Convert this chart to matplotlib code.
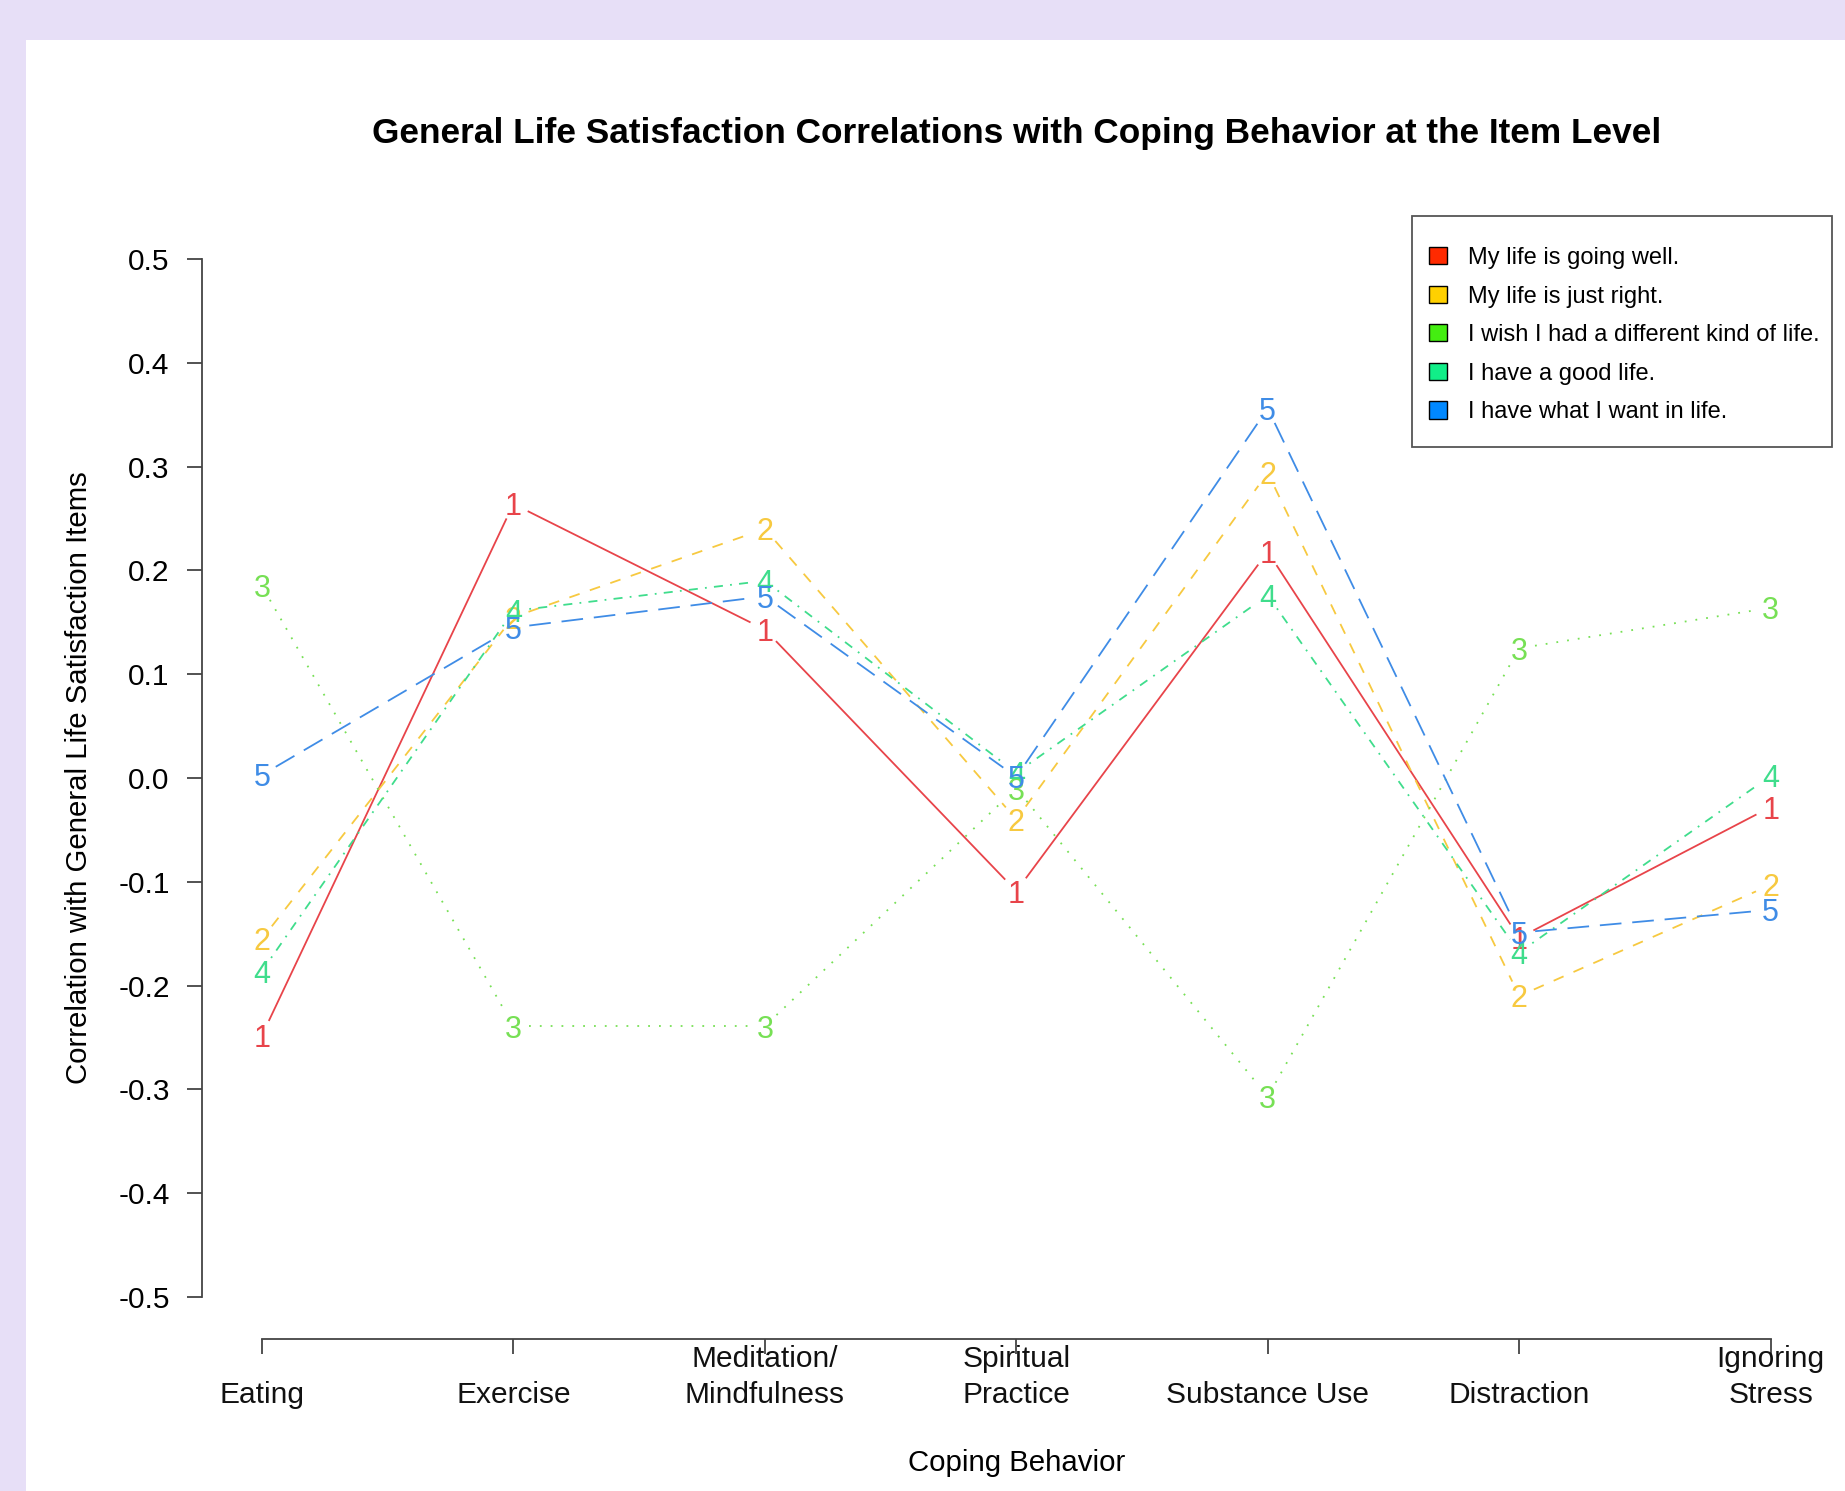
import matplotlib
matplotlib.use("Agg")
import matplotlib.pyplot as plt
import matplotlib.transforms as mtransforms
from matplotlib.patches import Patch, Rectangle
import numpy as np

plt.rcParams['font.family'] = ['Liberation Sans', 'DejaVu Sans']

# ---------------- data ----------------
categories = ["Eating", "Exercise", "Meditation/\nMindfulness", "Spiritual\nPractice",
              "Substance Use", "Distraction", "Ignoring\nStress"]
series_names = ["My life is going well.", "My life is just right.",
                "I wish I had a different kind of life.", "I have a good life.",
                "I have what I want in life."]
series_marks = ["1", "2", "3", "4", "5"]
s1 = [-0.248, 0.264, 0.143, -0.109, 0.218, -0.154, -0.028]
s2 = [-0.155, 0.155, 0.240, -0.040, 0.294, -0.210, -0.103]
s3 = [0.185, -0.239, -0.239, -0.010, -0.307, 0.125, 0.164]
s4 = [-0.186, 0.161, 0.190, 0.005, 0.176, -0.168, 0.002]
s5 = [0.003, 0.145, 0.175, 0.001, 0.356, -0.149, -0.127]
yticks = [0.5, 0.4, 0.3, 0.2, 0.1, 0.0, -0.1, -0.2, -0.3, -0.4, -0.5]
ytick_labels = ["0.5", "0.4", "0.3", "0.2", "0.1", "0.0", "-0.1", "-0.2", "-0.3", "-0.4", "-0.5"]

all_series = [s1, s2, s3, s4, s5]
legend_colors = ['#FF2A00', '#FFD000', '#44EE11', '#11EE88', '#0088FF']
line_colors = ['#E8444A', '#F7C940', '#77E055', '#3FDD8C', '#3F8CE6']
dash_styles = [None, (0, (6, 6)), (0, (1, 5)), (0, (1, 4, 5, 4)), (0, (12, 6))]

W, H = 1845, 1491
fig = plt.figure(figsize=(W / 100, H / 100), dpi=100, facecolor='#E7DFF7')
fig.patches.append(Rectangle((26 / W, 0), 1 - 26 / W, 1 - 40 / H, transform=fig.transFigure,
                             facecolor='white', edgecolor='none', zorder=-10))

left, right, top, bottom = 201.6, 1831.0, 217.5, 1338.5
ax = fig.add_axes([left / W, 1 - bottom / H, (right - left) / W, (bottom - top) / H])
ax.set_zorder(1)
ax.set_facecolor('none')
x = np.arange(1, len(categories) + 1)
ax.set_xlim(0.76, 7.24)
ax.set_ylim(-0.54, 0.54)

# lines with gaps around the plotted characters (R type="b")
gap = 16.0
for vals, col, ls, mk in zip(all_series, line_colors, dash_styles, series_marks):
    pts = ax.transData.transform(np.column_stack([x, vals]))
    for i in range(len(pts) - 1):
        p0, p1 = pts[i], pts[i + 1]
        d = p1 - p0
        L = np.hypot(*d)
        if L <= 2 * gap:
            continue
        u = d / L
        a = ax.transData.inverted().transform([p0 + u * gap, p1 - u * gap])
        kw = dict(color=col, lw=1.3, solid_capstyle='butt', dash_capstyle='butt')
        if ls is not None:
            kw['linestyle'] = ls
        ax.plot(a[:, 0], a[:, 1], **kw)
    for xi, yi in zip(x, vals):
        ax.text(xi, yi, mk, color=col, fontsize=22, ha='center', va='center_baseline')

# axes styling (R style)
for s in ['top', 'right']:
    ax.spines[s].set_visible(False)
ax.spines['left'].set_bounds(-0.5, 0.5)
ax.spines['bottom'].set_bounds(1, 7)
for s in ['left', 'bottom']:
    ax.spines[s].set_color('#444444')
    ax.spines[s].set_linewidth(1.3)
ax.set_yticks(yticks)
ax.set_yticklabels(ytick_labels, fontsize=21.5)
ax.set_xticks(x)
ax.set_xticklabels([''] * len(x))
ax.tick_params(axis='both', length=11, width=1.3, color='#444444', direction='out')
ax.tick_params(axis='y', pad=12)

blend = mtransforms.blended_transform_factory(ax.transData, fig.transFigure)
for xi, lab in zip(x, categories):
    txt = lab if '\n' in lab else '\n' + lab
    ax.text(xi, 1 - 1377 / H, txt, transform=blend, ha='center', va='center',
            fontsize=21.5, linespacing=1.4, color='#111111', clip_on=False)

fig.text(1017 / W, 1 - 133 / H,
         "General Life Satisfaction Correlations with Coping Behavior at the Item Level",
         ha='center', va='center', fontsize=25.4, fontweight='bold')
fig.text(1017 / W, 1 - 1463 / H, "Coping Behavior", ha='center', va='center', fontsize=21.2)
fig.text(79 / W, 1 - 778 / H, "Correlation with General Life Satisfaction Items",
         ha='center', va='center', rotation=90, fontsize=21.2)

# legend box (R style) and frameless legend inside it
fig.patches.append(Rectangle((1412 / W, 1 - 447 / H), 420 / W, 231 / H, transform=fig.transFigure,
                             facecolor='white', edgecolor='#555555', linewidth=1.3, zorder=2))
handles = [Patch(facecolor=c, edgecolor='black', linewidth=1.0) for c in legend_colors]
leg = fig.legend(handles, series_names, loc='upper left',
                 bbox_to_anchor=(1429 / W, 1 - 247 / H), bbox_transform=fig.transFigure,
                 borderaxespad=0.0, borderpad=0.0, fontsize=17, frameon=False,
                 handlelength=0.75, handleheight=0.75,
                 handletextpad=0.9, labelspacing=0.7)
leg.set_zorder(3)

fig.savefig("out.png", dpi=100, facecolor=fig.get_facecolor())
